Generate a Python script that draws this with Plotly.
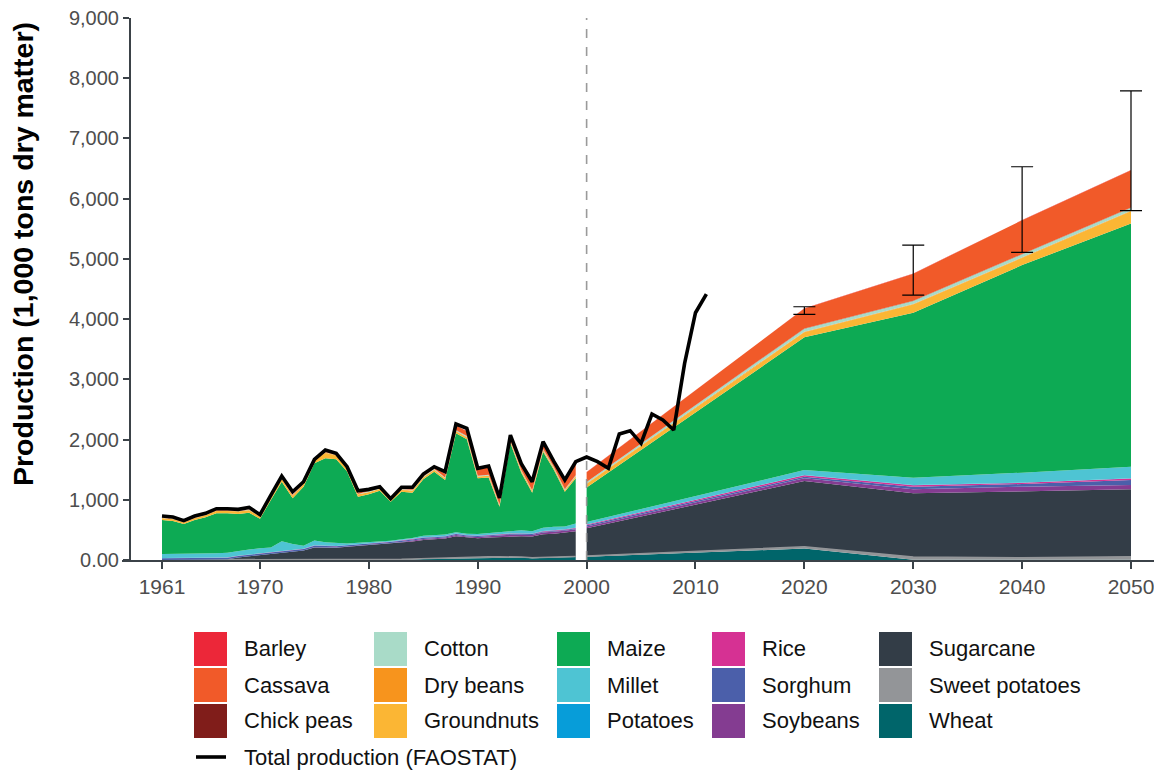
import plotly.graph_objects as go

# ---------------- data ----------------
hist_years = list(range(1961, 2000))
proj_years = [2000, 2020, 2030, 2040, 2050]
fao_years = list(range(1961, 2012))

fao_total = [730, 715, 653, 730, 775, 852, 852, 841, 874, 752,
             1079, 1394, 1134, 1300, 1671, 1826, 1771, 1549, 1151, 1173,
             1217, 1018, 1207, 1207, 1428, 1549, 1466, 2258, 2186, 1522,
             1560, 1030, 2075, 1600, 1300, 1964, 1632, 1328, 1632, 1710,
             1632, 1522, 2092, 2147, 1937, 2424, 2324, 2158, 3265, 4106,
             4416]

wheat_hist = [0, 0, 0, 0, 0, 0, 0, 0, 0, 0, 0, 0, 0, 0, 0, 0, 0, 0, 0, 0,
              0, 0, 5, 10, 15, 18, 22, 28, 32, 38, 42, 44, 46, 40, 30, 38, 42, 45, 48]
sweetpot_hist = [2, 2, 2, 2, 2, 2, 2, 2, 2, 2, 2, 2, 2, 2, 3, 3, 3, 3, 3, 3,
                 4, 4, 8, 8, 9, 9, 9, 10, 10, 10, 10, 10, 10, 9, 9, 10, 10, 10, 11]
sugarcane_hist = [0, 0, 0, 0, 0, 0, 10, 40, 60, 80, 100, 120, 140, 155, 205, 205, 200, 215, 230, 240,
                  250, 262, 275, 290, 310, 318, 325, 355, 330, 315, 322, 330, 338, 345, 350, 380, 385, 400, 420]
soybeans_hist = [0, 0, 0, 0, 0, 0, 0, 0, 0, 0, 0, 0, 0, 0, 5, 5, 5, 5, 8, 10,
                 10, 12, 12, 14, 15, 16, 18, 22, 20, 20, 22, 22, 24, 25, 26, 28, 30, 30, 32]
sorghum_hist = [25, 25, 25, 25, 25, 25, 25, 25, 25, 25, 25, 25, 25, 25, 25, 20, 20, 20, 20, 20,
                20, 20, 20, 20, 20, 15, 15, 15, 15, 15, 15, 15, 15, 15, 15, 15, 15, 15, 15]
rice_hist = [3, 3, 3, 3, 3, 3, 3, 3, 3, 3, 3, 3, 3, 3, 3, 3, 3, 3, 3, 6,
             6, 6, 6, 6, 6, 6, 6, 6, 6, 6, 6, 7, 7, 7, 7, 8, 8, 8, 8]
potatoes_hist = [2, 2, 2, 2, 2, 2, 2, 2, 2, 2, 2, 2, 2, 2, 2, 2, 2, 2, 2, 2,
                 2, 2, 2, 2, 2, 2, 2, 2, 2, 2, 2, 2, 2, 2, 2, 2, 2, 2, 2]
millet_hist = [68, 68, 68, 72, 75, 80, 80, 82, 82, 82, 75, 160, 95, 48, 80, 58, 52, 28, 20, 16,
               15, 15, 15, 15, 25, 25, 25, 22, 20, 25, 28, 30, 35, 50, 40, 55, 60, 45, 70]
maize_hist = [564, 547, 498, 560, 601, 663, 653, 610, 612, 492, 789, 988, 757, 982, 1282, 1392, 1386, 1194, 765, 793,
              843, 647, 791, 753, 938, 1057, 906, 1643, 1569, 925, 925, 425, 1460, 957, 639, 1262, 942, 579, 750]
groundnuts_hist = [30, 30, 25, 30, 35, 40, 40, 40, 40, 35, 35, 45, 40, 45, 55, 90, 65, 50, 35, 35,
                   30, 25, 30, 30, 30, 30, 25, 30, 30, 25, 25, 20, 25, 25, 25, 25, 25, 25, 30]
drybeans_hist = [5, 5, 5, 5, 5, 5, 5, 5, 5, 5, 5, 6, 5, 6, 6, 7, 7, 6, 5, 5,
                 5, 5, 6, 6, 6, 7, 6, 8, 8, 6, 6, 5, 8, 6, 5, 7, 6, 5, 7]
cotton_hist = [3, 3, 3, 3, 3, 3, 3, 3, 3, 3, 3, 4, 3, 4, 4, 5, 5, 4, 4, 8,
               8, 8, 9, 10, 10, 12, 10, 15, 15, 12, 12, 10, 15, 12, 10, 15, 14, 12, 15]
chickpeas_hist = [1, 1, 1, 1, 1, 1, 1, 1, 1, 1, 1, 1, 1, 1, 1, 1, 1, 1, 1, 1,
                  1, 1, 1, 1, 1, 1, 1, 1, 1, 1, 1, 1, 1, 1, 1, 1, 1, 1, 1]
cassava_hist = [3, 3, 3, 3, 3, 3, 3, 3, 3, 3, 5, 5, 5, 5, 8, 20, 25, 25, 20, 30,
                35, 20, 40, 45, 30, 30, 60, 75, 80, 110, 120, 110, 80, 90, 130, 100, 90, 140, 190]
barley_hist = [2, 2, 2, 2, 2, 2, 2, 2, 2, 2, 2, 2, 2, 2, 2, 2, 2, 2, 2, 2,
               2, 2, 2, 2, 2, 2, 2, 2, 2, 2, 2, 2, 2, 2, 2, 2, 2, 2, 2]

wheat_proj = [55, 190, 5, 3, 5]
sweetpot_proj = [12, 30, 45, 35, 50]
sugarcane_proj = [459, 1091, 1057, 1096, 1118]
soybeans_proj = [30, 45, 66, 83, 72]
sorghum_proj = [20, 27, 44, 45, 83]
rice_proj = [12, 25, 25, 19, 25]
potatoes_proj = [2, 3, 3, 3, 3]
millet_proj = [40, 83, 122, 166, 193]
maize_proj = [572, 2203, 2739, 3447, 4040]
groundnuts_proj = [60, 85, 135, 118, 200]
drybeans_proj = [8, 10, 10, 10, 10]
cotton_proj = [25, 50, 50, 51, 52]
chickpeas_proj = [2, 4, 4, 4, 4]
cassava_proj = [162, 330, 450, 560, 615]
barley_proj = [2, 4, 4, 4, 4]

err_years = [2020, 2030, 2040, 2050]
err_low = [4078, 4399, 5108, 5800]
err_high = [4205, 5229, 6530, 7790]

x_tick_vals = [1961, 1970, 1980, 1990, 2000, 2010, 2020, 2030, 2040, 2050]
y_tick_vals = [0, 1000, 2000, 3000, 4000, 5000, 6000, 7000, 8000, 9000]
y_tick_text = ["0.00", "1,000", "2,000", "3,000", "4,000", "5,000", "6,000", "7,000", "8,000", "9,000"]

# stacking order, bottom to top
stack = [
    ("Wheat", wheat_hist, wheat_proj),
    ("Sweet potatoes", sweetpot_hist, sweetpot_proj),
    ("Sugarcane", sugarcane_hist, sugarcane_proj),
    ("Soybeans", soybeans_hist, soybeans_proj),
    ("Sorghum", sorghum_hist, sorghum_proj),
    ("Rice", rice_hist, rice_proj),
    ("Potatoes", potatoes_hist, potatoes_proj),
    ("Millet", millet_hist, millet_proj),
    ("Maize", maize_hist, maize_proj),
    ("Groundnuts", groundnuts_hist, groundnuts_proj),
    ("Dry beans", drybeans_hist, drybeans_proj),
    ("Cotton", cotton_hist, cotton_proj),
    ("Chick peas", chickpeas_hist, chickpeas_proj),
    ("Cassava", cassava_hist, cassava_proj),
    ("Barley", barley_hist, barley_proj),
]

colors = {
    "Barley": "#EC2739", "Cassava": "#F15A29", "Chick peas": "#801D1A",
    "Cotton": "#A9DBC8", "Dry beans": "#F7941D", "Groundnuts": "#FBB634",
    "Maize": "#0DAA54", "Millet": "#4EC4D3", "Potatoes": "#079DD9",
    "Rice": "#D63193", "Sorghum": "#4B5FAA", "Soybeans": "#843C91",
    "Sugarcane": "#333D47", "Sweet potatoes": "#939598", "Wheat": "#00656A",
}

legend_columns = [
    ["Barley", "Cassava", "Chick peas"],
    ["Cotton", "Dry beans", "Groundnuts"],
    ["Maize", "Millet", "Potatoes"],
    ["Rice", "Sorghum", "Soybeans"],
    ["Sugarcane", "Sweet potatoes", "Wheat"],
]
total_label = "Total production (FAOSTAT)"
y_title = "Production (1,000 tons dry matter)"

# ---------------- geometry (page pixels; page body has an 8px margin) ----------------
FONT = "Liberation Sans, Arial, Helvetica, sans-serif"
OFF = 8
PAGE_W, PAGE_H = 1162, 772
PLOT_L, PLOT_R, PLOT_T, PLOT_B = 122, 1160, 18, 560   # page pixel edges of plot area
W, H = PAGE_W - OFF, PAGE_H - OFF
ML, MT = PLOT_L - OFF, PLOT_T - OFF
MR, MB = PAGE_W - PLOT_R, PAGE_H - PLOT_B
PW, PH = PLOT_R - PLOT_L, PLOT_B - PLOT_T


def xp(px):
    return (px - PLOT_L) / PW


def yp(py):
    return (PLOT_B - py) / PH


fig = go.Figure()

for name, hv, pv in stack:
    lw = 1.5 if name == "Sweet potatoes" else 0
    fig.add_trace(go.Scatter(x=hist_years, y=hv, stackgroup="hist", mode="lines",
                             line=dict(width=lw, color=colors[name]),
                             fillcolor=colors[name], name=name, showlegend=False))
for name, hv, pv in stack:
    lw = 1.5 if name == "Sweet potatoes" else 0
    fig.add_trace(go.Scatter(x=proj_years, y=pv, stackgroup="proj", mode="lines",
                             line=dict(width=lw, color=colors[name]),
                             fillcolor=colors[name], name=name, showlegend=False))

fig.add_trace(go.Scatter(x=fao_years, y=fao_total, mode="lines",
                         line=dict(color="black", width=3.6), name=total_label,
                         showlegend=False))

fig.add_trace(go.Scatter(
    x=err_years, y=err_high, mode="markers", marker=dict(opacity=0, size=1),
    error_y=dict(type="data", symmetric=False,
                 array=[0] * len(err_years),
                 arrayminus=[h - l for h, l in zip(err_high, err_low)],
                 color="black", thickness=1.2, width=11),
    showlegend=False, hoverinfo="skip"))

# vertical dashed line at 2000
fig.add_shape(type="line", x0=2000, x1=2000, y0=0, y1=9000, xref="x", yref="y",
              line=dict(color="#9a9a9a", width=1.6, dash="dash"), layer="above")

# manual legend
col_left = [194, 374, 557, 712, 879]
row_top = [632, 668, 704]
sw_w, sw_h = 33, 34
for ci, col in enumerate(legend_columns):
    for ri, name in enumerate(col):
        x0 = col_left[ci]
        y0 = row_top[ri]
        fig.add_shape(type="rect", xref="paper", yref="paper",
                      x0=xp(x0), x1=xp(x0 + sw_w), y0=yp(y0 + sw_h), y1=yp(y0),
                      fillcolor=colors[name], line=dict(width=0))
        fig.add_annotation(xref="paper", yref="paper", x=xp(x0 + 48), y=yp(y0 + sw_h / 2),
                           text=name, showarrow=False, xanchor="left", yanchor="middle",
                           font=dict(family=FONT, size=22, color="#111111"))
fig.add_shape(type="line", xref="paper", yref="paper",
              x0=xp(196), x1=xp(226), y0=yp(757), y1=yp(757),
              line=dict(color="black", width=3.6))
fig.add_annotation(xref="paper", yref="paper", x=xp(242), y=yp(757),
                   text=total_label, showarrow=False, xanchor="left", yanchor="middle",
                   font=dict(family=FONT, size=22, color="#111111"))

# y title
fig.add_annotation(xref="paper", yref="paper", x=xp(23), y=yp(254), text="<b>" + y_title + "</b>",
                   textangle=-90, showarrow=False, xanchor="center", yanchor="middle",
                   font=dict(family=FONT, size=28.5, color="#000000"))

px_per_year = (1131 - 162) / 89
x_lo = 1961 - (162 - PLOT_L) / px_per_year
x_hi = 2050 + (PLOT_R - 1131) / px_per_year

axis_col = "#3b4248"
fig.update_layout(
    width=W, height=H, margin=dict(l=ML, r=MR, t=MT, b=MB, autoexpand=False),
    paper_bgcolor="white", plot_bgcolor="white",
    font=dict(family=FONT),
    showlegend=False,
    xaxis=dict(range=[x_lo, x_hi], tickmode="array", tickvals=x_tick_vals,
               showgrid=False, zeroline=False, showline=True, linecolor=axis_col, linewidth=2,
               ticks="outside", ticklen=7, tickwidth=2, tickcolor=axis_col,
               ticklabeloverflow="allow",
               tickfont=dict(family=FONT, size=21, color="#4d4d4d")),
    yaxis=dict(range=[0, 9000], tickmode="array", tickvals=y_tick_vals, ticktext=y_tick_text,
               showgrid=False, zeroline=False, showline=True, linecolor=axis_col, linewidth=2,
               ticks="outside", ticklen=6, tickwidth=2, tickcolor=axis_col,
               anchor="free", position=8 / PW, ticklabeloverflow="allow",
               tickfont=dict(family=FONT, size=20, color="#4d4d4d")),
)

fig.write_html("out.html")
